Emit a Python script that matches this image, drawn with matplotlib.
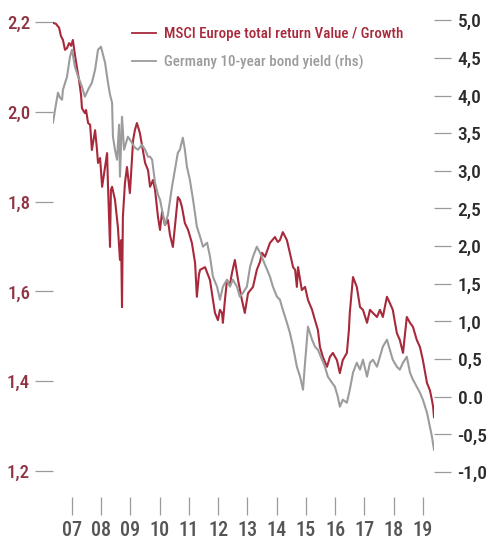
import matplotlib
matplotlib.use("Agg")
import matplotlib.pyplot as plt
from matplotlib import font_manager
from matplotlib.lines import Line2D

# ---------------- data ----------------
red_dates = [2006.85, 2006.95, 2007.06, 2007.12, 2007.19, 2007.26, 2007.33, 2007.40, 2007.47, 2007.53,
             2007.60, 2007.67, 2007.74, 2007.81, 2007.84, 2007.91, 2007.94, 2007.98, 2008.05, 2008.12,
             2008.18, 2008.29, 2008.35, 2008.39, 2008.46, 2008.53, 2008.63, 2008.70, 2008.73, 2008.80,
             2008.83, 2008.87, 2008.97, 2009.07, 2009.14, 2009.18, 2009.21, 2009.24, 2009.31, 2009.38,
             2009.48, 2009.59, 2009.65, 2009.72, 2009.82, 2010.00, 2010.10, 2010.17, 2010.27, 2010.34,
             2010.44, 2010.51, 2010.58, 2010.68, 2010.78, 2010.85, 2010.95, 2011.06, 2011.12, 2011.19,
             2011.26, 2011.36, 2011.47, 2011.60, 2011.71, 2011.77, 2011.84, 2011.88, 2012.05, 2012.22,
             2012.32, 2012.39, 2012.49, 2012.56, 2012.63, 2012.66, 2012.73, 2012.80, 2012.90, 2012.97,
             2013.07, 2013.18, 2013.31, 2013.41, 2013.52, 2013.69, 2013.82, 2013.93, 2014.00, 2014.10,
             2014.27, 2014.44, 2014.54, 2014.61, 2014.71, 2014.78, 2014.85, 2014.95, 2015.06, 2015.13,
             2015.19, 2015.23, 2015.36, 2015.47, 2015.57, 2015.71, 2015.81, 2015.91, 2015.98, 2016.08,
             2016.22, 2016.32, 2016.42, 2016.56, 2016.66, 2016.76, 2016.90, 2016.97, 2017.00, 2017.07,
             2017.11, 2017.24, 2017.35, 2017.45, 2017.59, 2017.69, 2017.79, 2017.93, 2018.03, 2018.13,
             2018.27, 2018.37, 2018.47, 2018.61, 2018.71, 2018.82, 2018.95, 2019.06, 2019.16, 2019.29,
             2019.40, 2019.50, 2019.64, 2019.74, 2019.81, 2019.85, 2019.88]
value_growth = [2.198, 2.196, 2.187, 2.169, 2.160, 2.138, 2.142, 2.153, 2.147, 2.160,
                2.127, 2.098, 2.071, 2.037, 2.008, 2.000, 1.997, 2.004, 1.975, 1.971,
                1.915, 1.959, 1.919, 1.886, 1.897, 1.833, 1.877, 1.908, 1.837, 1.699,
                1.826, 1.833, 1.804, 1.743, 1.670, 1.714, 1.565, 1.766, 1.841, 1.877,
                1.819, 1.937, 1.959, 1.975, 1.953, 1.886, 1.870, 1.833, 1.848, 1.826,
                1.766, 1.737, 1.777, 1.748, 1.759, 1.726, 1.699, 1.770, 1.810, 1.804,
                1.788, 1.752, 1.737, 1.708, 1.663, 1.588, 1.637, 1.648, 1.654, 1.625,
                1.581, 1.552, 1.536, 1.559, 1.552, 1.530, 1.581, 1.625, 1.614, 1.641,
                1.670, 1.625, 1.581, 1.552, 1.596, 1.610, 1.648, 1.666, 1.686, 1.677,
                1.708, 1.721, 1.710, 1.714, 1.732, 1.723, 1.714, 1.686, 1.654, 1.648,
                1.610, 1.654, 1.603, 1.610, 1.581, 1.559, 1.536, 1.514, 1.476, 1.454,
                1.432, 1.454, 1.463, 1.447, 1.418, 1.447, 1.463, 1.514, 1.552, 1.603,
                1.632, 1.610, 1.565, 1.559, 1.530, 1.559, 1.552, 1.543, 1.559, 1.543,
                1.588, 1.574, 1.559, 1.507, 1.492, 1.463, 1.543, 1.530, 1.521, 1.492,
                1.476, 1.447, 1.396, 1.380, 1.358, 1.343, 1.320]

grey_dates = [2006.85, 2006.92, 2007.02, 2007.09, 2007.16, 2007.19, 2007.33, 2007.43, 2007.50, 2007.60,
              2007.71, 2007.84, 2007.94, 2008.05, 2008.18, 2008.29, 2008.39, 2008.49, 2008.56, 2008.63,
              2008.73, 2008.80, 2008.87, 2008.90, 2008.97, 2009.04, 2009.11, 2009.14, 2009.21, 2009.28,
              2009.41, 2009.55, 2009.65, 2009.76, 2009.89, 2010.00, 2010.10, 2010.17, 2010.24, 2010.34,
              2010.44, 2010.51, 2010.61, 2010.68, 2010.78, 2010.92, 2011.02, 2011.12, 2011.19, 2011.29,
              2011.36, 2011.43, 2011.53, 2011.64, 2011.77, 2011.88, 2011.98, 2012.12, 2012.22, 2012.32,
              2012.46, 2012.56, 2012.66, 2012.80, 2012.90, 2013.00, 2013.14, 2013.24, 2013.35, 2013.48,
              2013.59, 2013.69, 2013.82, 2013.93, 2014.03, 2014.17, 2014.27, 2014.37, 2014.51, 2014.61,
              2014.71, 2014.85, 2014.95, 2015.06, 2015.19, 2015.30, 2015.40, 2015.47, 2015.57, 2015.71,
              2015.81, 2015.91, 2016.05, 2016.15, 2016.25, 2016.39, 2016.49, 2016.59, 2016.66, 2016.76,
              2016.90, 2017.00, 2017.11, 2017.24, 2017.35, 2017.45, 2017.59, 2017.69, 2017.79, 2017.93,
              2018.03, 2018.13, 2018.27, 2018.37, 2018.47, 2018.61, 2018.71, 2018.82, 2018.95, 2019.06,
              2019.16, 2019.29, 2019.40, 2019.50, 2019.64, 2019.74, 2019.81, 2019.88]
bund_yield = [3.639, 3.811, 4.037, 3.971, 3.944, 4.077, 4.250, 4.515, 4.608, 4.382,
              4.250, 4.117, 3.984, 4.077, 4.170, 4.343, 4.608, 4.648, 4.542, 4.436,
              4.170, 4.011, 3.904, 3.453, 3.280, 3.147, 3.612, 2.922, 3.718, 3.280,
              3.453, 3.373, 3.307, 3.280, 3.347, 3.280, 3.187, 3.187, 3.147, 2.842,
              2.683, 2.616, 2.417, 2.284, 2.417, 2.789, 3.015, 3.240, 3.280, 3.440,
              3.280, 3.054, 2.882, 2.616, 2.258, 2.125, 1.992, 2.045, 1.859, 1.594,
              1.461, 1.288, 1.461, 1.554, 1.461, 1.554, 1.461, 1.328, 1.381, 1.461,
              1.726, 1.859, 1.992, 1.912, 1.819, 1.687, 1.594, 1.461, 1.328, 1.288,
              1.155, 0.983, 0.850, 0.664, 0.398, 0.266, 0.093, 0.452, 0.930, 0.757,
              0.664, 0.624, 0.491, 0.398, 0.266, 0.186, 0.133, 0.000, -0.133, -0.040,
              -0.080, 0.093, 0.319, 0.452, 0.359, 0.491, 0.266, 0.452, 0.491, 0.398,
              0.531, 0.664, 0.757, 0.624, 0.491, 0.398, 0.359, 0.452, 0.531, 0.319,
              0.226, 0.133, 0.053, -0.040, -0.212, -0.398, -0.531, -0.704]

year_ticks = [2007.5, 2008.5, 2009.5, 2010.5, 2011.5, 2012.5, 2013.5, 2014.5, 2015.5, 2016.5,
              2017.5, 2018.5, 2019.5]
year_labels = ["07", "08", "09", "10", "11", "12", "13", "14", "15", "16", "17", "18", "19"]
left_ticks = [1.2, 1.4, 1.6, 1.8, 2.0, 2.2]
left_labels = ["1,2", "1,4", "1,6", "1,8", "2,0", "2,2"]
right_ticks = [-1.0, -0.5, 0.0, 0.5, 1.0, 1.5, 2.0, 2.5, 3.0, 3.5, 4.0, 4.5, 5.0]
right_labels = ["-1,0", "-0,5", "0.0", "0,5", "1,0", "1,5", "2,0", "2,5", "3,0", "3,5",
                "4,0", "4,5", "5,0"]
series_names = ["MSCI Europe total return Value / Growth", "Germany 10-year bond yield (rhs)"]

# ---------------- fonts ----------------
names = {f.name for f in font_manager.fontManager.ttflist}
family = [n for n in ["Roboto Condensed", "PT Sans Narrow", "Archivo Narrow"] if n in names][:1]
plt.rcParams["font.family"] = family + ["DejaVu Sans"]
plt.rcParams["font.weight"] = "medium"

RED = "#a8293b"
GREY = "#9c9c9c"
TICKC = "#9a9a9a"

fig = plt.figure(figsize=(5.0, 5.53), dpi=100)
ax = fig.add_axes([53 / 500, 1 - 497 / 553, 381 / 500, 487 / 553])
ax2 = ax.twinx()

ax.plot(red_dates, value_growth, color=RED, lw=1.5)
ax2.plot(grey_dates, bund_yield, color=GREY, lw=1.5)

ax.set_xlim(2006.85, 2019.88)
ax.set_ylim(1.1421, 2.2267)
ax2.set_ylim(-1.332, 5.1355)

for a in (ax, ax2):
    for s in a.spines.values():
        s.set_visible(False)

ax.set_yticks(left_ticks)
ax.set_yticklabels(left_labels)
ax.tick_params(axis="y", direction="out", length=13, width=0.9, color=TICKC,
               labelcolor="#8f3442", labelsize=13.5, pad=3.5)
ax2.set_yticks(right_ticks)
ax2.set_yticklabels(right_labels)
ax2.tick_params(axis="y", direction="out", length=12.5, width=0.9, color=TICKC,
                labelcolor="#2b2b2b", labelsize=14, pad=4.5)
ax.set_xticks(year_ticks)
ax.set_xticklabels(year_labels)
ax.tick_params(axis="x", direction="out", length=13, width=0.9, color=TICKC,
               labelcolor="#555555", labelsize=14.5, pad=4)

handles = [Line2D([], [], color=RED, lw=1.3), Line2D([], [], color=GREY, lw=1.3)]
leg = ax.legend(handles, series_names, loc="upper left",
                bbox_to_anchor=(132 / 500, 1 - 27 / 553), bbox_transform=fig.transFigure,
                frameon=False, borderpad=0, borderaxespad=0, handlelength=1.6,
                handletextpad=0.5, labelspacing=0.9, fontsize=10.8)
for t, c in zip(leg.get_texts(), [RED, GREY]):
    t.set_color(c)

fig.savefig("out.png", dpi=100)
